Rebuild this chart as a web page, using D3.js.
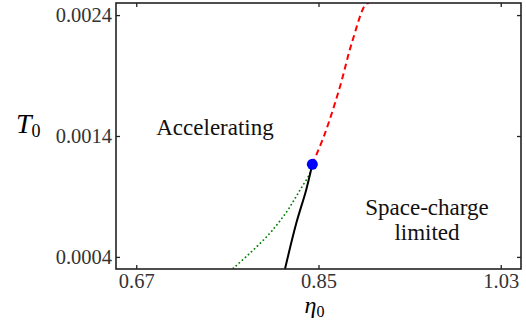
<!DOCTYPE html>
<html>
<head>
<meta charset="utf-8">
<script src="https://cdn.jsdelivr.net/npm/d3@7"></script>
<style>
  body { margin: 0; background: #fff; }
  svg { display: block; }
</style>
</head>
<body>
<svg id="chart" width="526" height="322"></svg>
<script>
// axis ticks
const etaTicks = [0.67, 0.85, 1.03];
const tTicks = [0.0004, 0.0014, 0.0024];

// critical point where the three boundaries meet
const critical = { eta: 0.8439, t: 0.001166 };

// space-charge boundary (solid black)
const boundaryEta = [0.8169, 0.8281, 0.8377, 0.8439];
const boundaryT = [0.0003, 0.00068, 0.00095, 0.001166];

// green dotted branch
const dottedEta = [0.7659, 0.7988, 0.8186, 0.8317, 0.8416, 0.8439];
const dottedT = [0.000306, 0.000567, 0.000774, 0.000953, 0.001094, 0.001166];

// red dashed continuation
const dashedEta = [0.8439, 0.8564, 0.8712, 0.8828, 0.8966, 0.9];
const dashedT = [0.001166, 0.001422, 0.001808, 0.002167, 0.00249, 0.0025];

const serif = "serif";
const svg = d3.select("#chart").attr("font-family", serif);
const margin = { top: 3, right: 5, bottom: 53, left: 116 };
const W = 526, H = 322;
const innerW = W - margin.left - margin.right;
const innerH = H - margin.top - margin.bottom;

const x = d3.scaleLinear().domain([0.65, 1.05]).range([0, innerW]);
const y = d3.scaleLinear().domain([0.0003, 0.0025]).range([innerH, 0]);

const g = svg.append("g").attr("transform", `translate(${margin.left},${margin.top})`);

g.append("clipPath").attr("id", "plot-clip")
  .append("rect").attr("width", innerW).attr("height", innerH);

const zip = (xs, ys) => xs.map((v, i) => [v, ys[i]]);
const line = d3.line().x(d => x(d[0])).y(d => y(d[1])).curve(d3.curveCatmullRom);

const plot = g.append("g").attr("clip-path", "url(#plot-clip)");

plot.append("path")
  .datum(zip(dottedEta, dottedT))
  .attr("d", line)
  .attr("fill", "none")
  .attr("stroke", "#008000")
  .attr("stroke-width", 1.8)
  .attr("stroke-linecap", "round")
  .attr("stroke-dasharray", "0.1 4");

plot.append("path")
  .datum(zip(boundaryEta, boundaryT))
  .attr("d", line)
  .attr("fill", "none")
  .attr("stroke", "#000")
  .attr("stroke-width", 2);

plot.append("path")
  .datum(zip(dashedEta, dashedT))
  .attr("d", line)
  .attr("fill", "none")
  .attr("stroke", "#ff0000")
  .attr("stroke-width", 2)
  .attr("stroke-dasharray", "6 4");

g.append("circle")
  .attr("cx", x(critical.eta))
  .attr("cy", y(critical.t))
  .attr("r", 5.5)
  .attr("fill", "#0000ff");

// frame + inward ticks on all four sides
const axisStyle = sel => {
  sel.attr("font-family", serif);
  sel.select(".domain").remove();
  sel.selectAll(".tick line").attr("stroke", "#222").attr("stroke-width", 1.3);
  sel.selectAll(".tick text")
    .attr("fill", "#333")
    .attr("font-size", 20.5)
    .attr("font-family", serif);
};

g.append("g")
  .attr("transform", `translate(0,${innerH})`)
  .call(d3.axisBottom(x).tickValues(etaTicks).tickFormat(d3.format(".2f")).tickSize(-4).tickPadding(4))
  .call(axisStyle);
g.append("g")
  .call(d3.axisTop(x).tickValues(etaTicks).tickSize(-4).tickFormat(""))
  .call(axisStyle);
g.append("g")
  .call(d3.axisLeft(y).tickValues(tTicks).tickFormat(d3.format(".4f")).tickSize(-4).tickPadding(4))
  .call(axisStyle);
g.append("g")
  .attr("transform", `translate(${innerW},0)`)
  .call(d3.axisRight(y).tickValues(tTicks).tickSize(-4).tickFormat(""))
  .call(axisStyle);

g.append("rect")
  .attr("width", innerW).attr("height", innerH)
  .attr("fill", "none").attr("stroke", "#222").attr("stroke-width", 1.6);

// axis labels
const xl = svg.append("text")
  .attr("x", margin.left + x(0.85) - 4).attr("y", 313)
  .attr("text-anchor", "middle")
  .attr("font-family", serif)
  .attr("font-size", 24);
xl.append("tspan").attr("font-style", "italic").text("η");
xl.append("tspan").attr("font-size", 16).attr("dy", 4).text("0");

const yl = svg.append("text")
  .attr("x", 16).attr("y", 133)
  .attr("font-family", serif)
  .attr("font-size", 28);
yl.append("tspan").attr("font-style", "italic").text("T");
yl.append("tspan").attr("font-size", 18).attr("dy", 4).text("0");

// region labels
const region = (text, cx, cy) => svg.append("text")
  .attr("x", cx).attr("y", cy)
  .attr("text-anchor", "middle")
  .attr("font-family", serif)
  .attr("font-size", 23)
  .attr("fill", "#111")
  .text(text);
region("Accelerating", 215, 135);
region("Space-charge", 427, 215);
region("limited", 427, 240);
</script>
</body>
</html>
